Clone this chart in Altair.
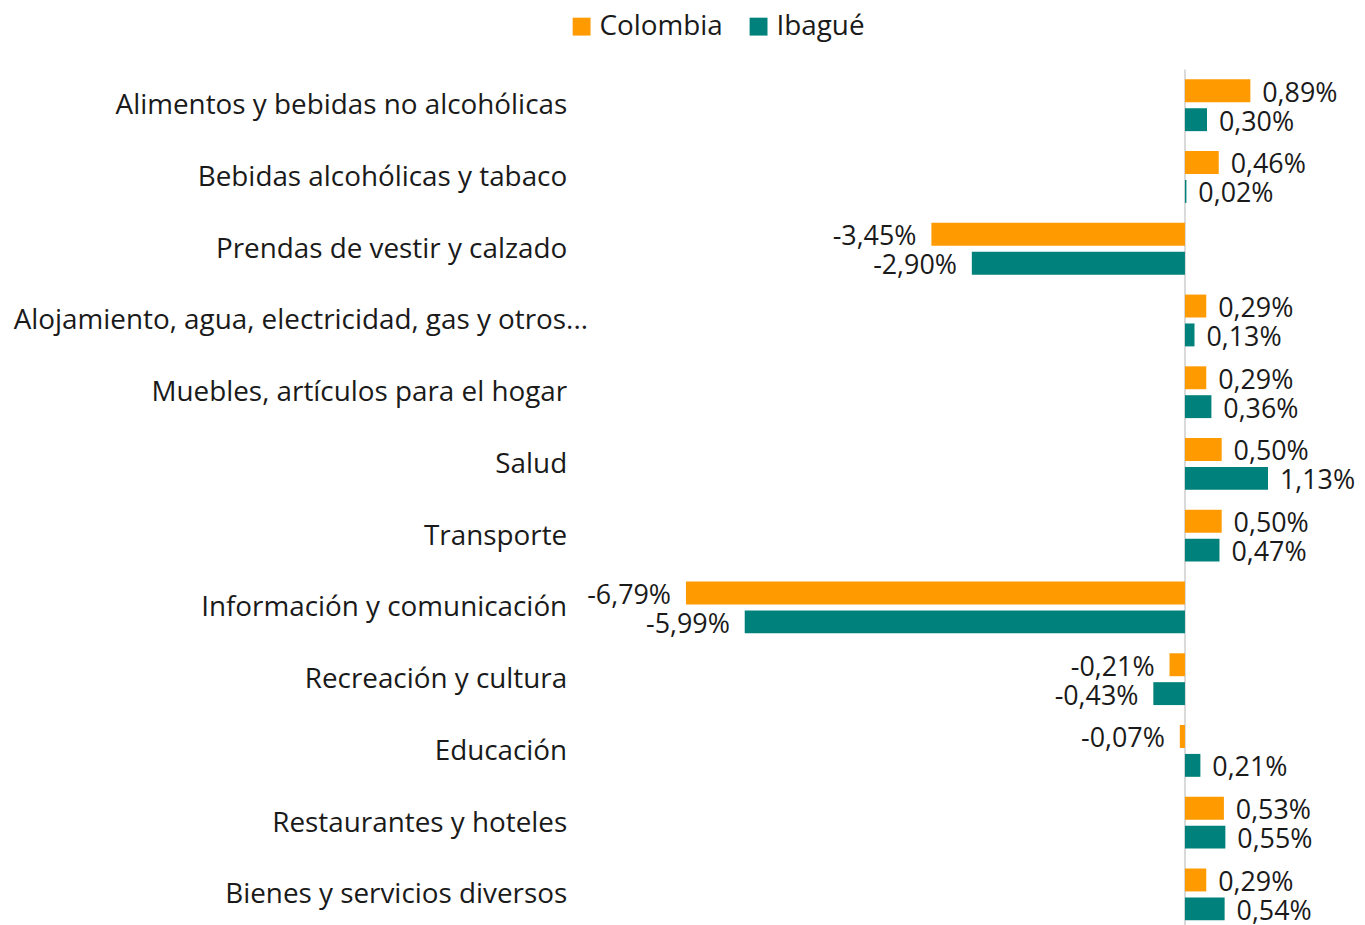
import altair as alt
import pandas as pd

categories = [
    "Alimentos y bebidas no alcohólicas",
    "Bebidas alcohólicas y tabaco",
    "Prendas de vestir y calzado",
    "Alojamiento, agua, electricidad, gas y otros...",
    "Muebles, artículos para el hogar",
    "Salud",
    "Transporte",
    "Información y comunicación",
    "Recreación y cultura",
    "Educación",
    "Restaurantes y hoteles",
    "Bienes y servicios diversos",
]
colombia = [0.89, 0.46, -3.45, 0.29, 0.29, 0.50, 0.50, -6.79, -0.21, -0.07, 0.53, 0.29]
ibague = [0.30, 0.02, -2.90, 0.13, 0.36, 1.13, 0.47, -5.99, -0.43, 0.21, 0.55, 0.54]
series = ["Colombia", "Ibagué"]
colors = ["#FF9A00", "#00817B"]

rows = []
for c, a, b in zip(categories, colombia, ibague):
    rows.append({"cat": c, "serie": series[0], "v": a})
    rows.append({"cat": c, "serie": series[1], "v": b})
df = pd.DataFrame(rows)

FONT = "Open Sans"
FS = 28
FS_LBL = 27
TXT = "#1a1a1a"
long_label = categories[3]
XDOM = [-8.115, 2.287]

y_enc = alt.Y(
    "cat:N",
    sort=categories,
    scale=alt.Scale(paddingInner=0.278, paddingOuter=0.139),
    axis=alt.Axis(
        title=None,
        ticks=False,
        domain=False,
        labelFont=FONT,
        labelFontSize=FS,
        labelColor=TXT,
        labelLimit=700,
        labelOffset=1,
        labelPadding={"condition": {"test": f"datum.value == '{long_label}'", "value": 1}, "value": 22},
    ),
)
yoff = alt.YOffset("serie:N", sort=series, scale=alt.Scale(paddingInner=0.207))
x_enc = alt.X("v:Q", scale=alt.Scale(domain=XDOM, nice=False, zero=False), axis=None)

base = alt.Chart(df).encode(y=y_enc, yOffset=yoff, x=x_enc)

bars = base.mark_bar().encode(
    color=alt.Color(
        "serie:N",
        sort=series,
        scale=alt.Scale(domain=series, range=colors),
        legend=alt.Legend(
            title=None,
            orient="none",
            direction="horizontal",
            legendX=-21,
            legendY=-57,
            symbolType="square",
            symbolSize=324,
            symbolStrokeWidth=0,
            labelFont=FONT,
            labelFontSize=FS,
            labelColor=TXT,
            labelLimit=300,
            columnPadding=21,
            symbolOffset=0,
            labelOffset=4,
        ),
    )
)

lbl = base.transform_calculate(
    lab="replace(replace(format(datum.v, '.2f'), '.', ','), '\u2212', '-') + '%'"
)
pos_text = lbl.transform_filter("datum.v >= 0").mark_text(
    align="left", baseline="middle", dx=12, dy=3, font=FONT, fontSize=FS_LBL, color=TXT
).encode(text="lab:N")
neg_text = lbl.transform_filter("datum.v < 0").mark_text(
    align="right", baseline="middle", dx=-15, dy=3, font=FONT, fontSize=FS_LBL, color=TXT
).encode(text="lab:N")

zero_rule = alt.Chart(pd.DataFrame({"z": [0]})).mark_rule(color="#d9d9d9", strokeWidth=2).encode(
    x=alt.X("z:Q", scale=alt.Scale(domain=XDOM, nice=False, zero=False), axis=None)
)

chart = alt.layer(zero_rule, bars, pos_text, neg_text).properties(
    width=769,
    height=866,
    background="white",
    autosize=alt.AutoSizeParams(type="none"),
    padding={"left": 584, "top": 59, "right": 4, "bottom": 0},
).configure_view(strokeWidth=0, stroke=None)

chart.save("out.html", embed_options={"renderer": "svg", "actions": False})
